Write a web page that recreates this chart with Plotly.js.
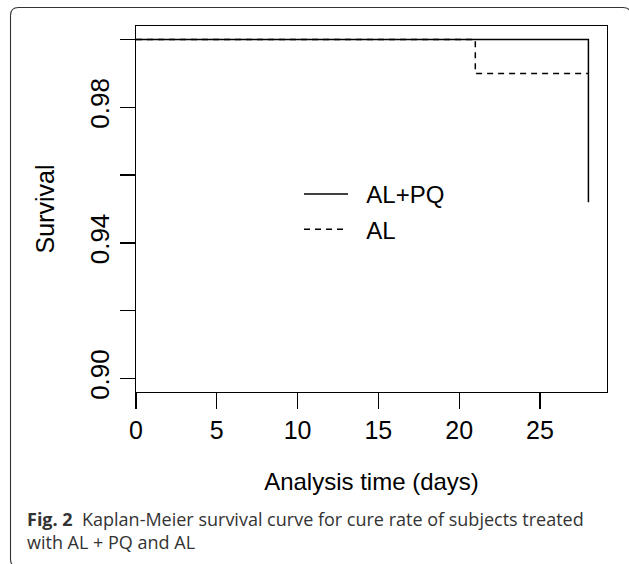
<!DOCTYPE html>
<html>
<head>
<meta charset="utf-8">
<script src="https://cdn.plot.ly/plotly-3.0.1.min.js"></script>
<style>
  html, body { margin: 0; padding: 0; background: #ffffff; }
  #chart { width: 629px; height: 564px; }
</style>
</head>
<body>
<div id="chart"></div>
<script>
// ---- data ----
const seriesNames = ["AL+PQ", "AL"];
const timeALPQ = [0, 28];
const survALPQ = [1.0, 0.952];
const timeAL = [0, 21, 28];
const survAL = [1.0, 0.99, 0.99];
const xTickVals = [0, 5, 10, 15, 20, 25];
const yTickVals = [0.90, 0.92, 0.94, 0.96, 0.98, 1.00];
const yTickText = ["0.90", "", "0.94", "", "0.98", ""];
const xTitle = "Analysis time (days)";
const yTitle = "Survival";
const captionLine1 = "<b>Fig. 2</b>\u00a0\u00a0Kaplan-Meier survival curve for cure rate of subjects treated";
const captionLine2 = "with AL + PQ and AL";

// ---- layout geometry ----
const W = 629, H = 564;
const M = { l: 136, r: 22, t: 26, b: 172 };
const PW = W - M.l - M.r, PH = H - M.t - M.b;
const px2x = p => (p - M.l) / PW;
const px2y = p => 1 - (p - M.t) / PH;

function roundedRectPath(x0, y0, x1, y1, r) {
  const pts = [
    ["M", x0 + r, y0], ["L", x1 - r, y0], ["Q", x1, y0, x1, y0 + r],
    ["L", x1, y1 - r], ["Q", x1, y1, x1 - r, y1], ["L", x0 + r, y1],
    ["Q", x0, y1, x0, y1 - r], ["L", x0, y0 + r], ["Q", x0, y0, x0 + r, y0]
  ];
  return pts.map(seg => {
    const c = seg[0]; const v = seg.slice(1);
    const out = [];
    for (let i = 0; i < v.length; i += 2) out.push(px2x(v[i]).toFixed(5) + "," + px2y(v[i + 1]).toFixed(5));
    return c + out.join(" ");
  }).join(" ") + " Z";
}

const FONT = "Liberation Sans, Arial, Helvetica, sans-serif";
const PAD = "\u00a0\u00a0";

const traces = [
  {
    x: timeALPQ, y: survALPQ, name: PAD + seriesNames[0], type: "scatter", mode: "lines",
    line: { shape: "hv", color: "#000000", width: 1.5 }, legendgroup: "g1"
  },
  {
    x: timeAL, y: survAL, name: PAD + seriesNames[1], type: "scatter", mode: "lines",
    line: { shape: "hv", color: "#000000", width: 1.5, dash: "6px,5px" }, legendgroup: "g2"
  }
];

const layout = {
  width: W, height: H,
  margin: M,
  paper_bgcolor: "#ffffff", plot_bgcolor: "#ffffff",
  font: { family: FONT, color: "#000000" },
  showlegend: true,
  legend: {
    x: px2x(299), y: px2y(172), xanchor: "left", yanchor: "top",
    bgcolor: "rgba(0,0,0,0)", borderwidth: 0,
    font: { family: FONT, size: 24, color: "#000000" },
    tracegroupgap: 1, itemwidth: 44
  },
  xaxis: {
    range: [0, 29.15], tickvals: xTickVals, ticktext: xTickVals.map(String),
    ticks: "outside", ticklen: 16, tickwidth: 1.3, tickcolor: "#000000",
    showline: true, mirror: true, linecolor: "#000000", linewidth: 1.3,
    showgrid: false, zeroline: false,
    tickfont: { family: FONT, size: 25, color: "#000000" },
    title: { text: xTitle, font: { family: FONT, size: 24, color: "#000000" }, standoff: 30 }
  },
  yaxis: {
    range: [0.896, 1.004], tickvals: yTickVals, ticktext: yTickText,
    tickangle: -90,
    ticks: "outside", ticklen: 15, tickwidth: 1.3, tickcolor: "#000000",
    showline: true, mirror: true, linecolor: "#000000", linewidth: 1.3,
    showgrid: false, zeroline: false,
    tickfont: { family: FONT, size: 26, color: "#000000" },
    title: { text: yTitle, font: { family: FONT, size: 25, color: "#000000" }, standoff: 23 }
  },
  shapes: [
    {
      type: "path", xref: "paper", yref: "paper",
      path: roundedRectPath(10.5, 7.5, 631, 567, 8),
      line: { color: "#333333", width: 1.1 }, layer: "below"
    }
  ],
  annotations: [
    {
      xref: "paper", yref: "paper", x: px2x(25), y: px2y(530), xanchor: "left", yanchor: "middle",
      align: "left",
      text: captionLine1 + "<br>" + captionLine2, showarrow: false,
      font: { family: "Open Sans, Noto Sans, sans-serif", size: 18, color: "#333333" }
    }
  ]
};

Plotly.newPlot("chart", traces, layout, { displayModeBar: false, staticPlot: true });
</script>
</body>
</html>
